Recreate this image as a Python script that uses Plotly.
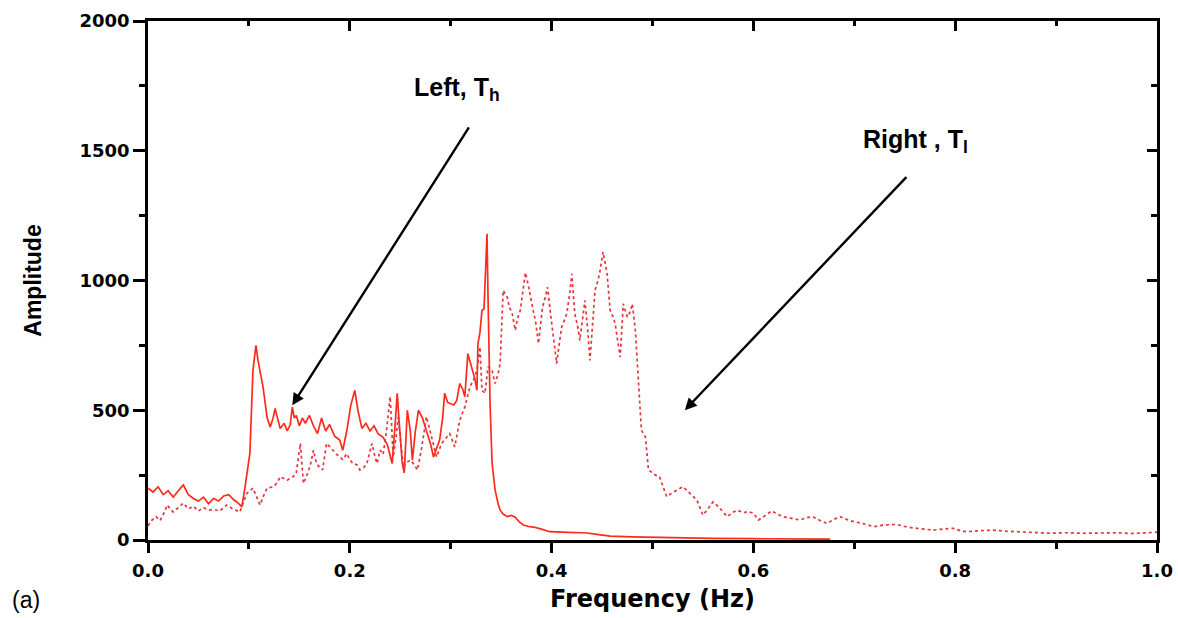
import plotly.graph_objects as go

# ---- data ----
left_freq = [0.000,0.005,0.010,0.015,0.020,0.025,0.030,0.035,0.040,0.045,0.050,0.055,0.060,0.065,0.070,0.075,0.080,0.085,0.090,0.093,0.096,0.098,0.101,0.104,0.107,0.109,0.111,0.114,0.118,0.121,0.124,0.126,0.129,0.131,0.135,0.138,0.141,0.143,0.145,0.147,0.150,0.153,0.156,0.160,0.164,0.168,0.172,0.176,0.180,0.185,0.190,0.193,0.197,0.201,0.205,0.208,0.212,0.216,0.220,0.224,0.228,0.233,0.237,0.240,0.242,0.245,0.247,0.249,0.252,0.254,0.257,0.260,0.262,0.265,0.268,0.272,0.276,0.280,0.283,0.286,0.289,0.292,0.294,0.297,0.300,0.303,0.306,0.309,0.312,0.314,0.317,0.320,0.322,0.324,0.326,0.327,0.329,0.331,0.333,0.335,0.336,0.337,0.339,0.341,0.344,0.347,0.349,0.352,0.356,0.360,0.364,0.368,0.372,0.377,0.382,0.390,0.398,0.410,0.420,0.435,0.445,0.458,0.480,0.500,0.534,0.560,0.600,0.640,0.676]
left_amp = [200,185,205,175,190,165,190,212,175,160,150,165,140,160,150,170,175,155,140,127,200,258,335,654,750,692,654,590,473,435,470,507,460,430,450,420,445,512,470,480,440,470,450,480,440,410,470,420,445,400,385,346,420,520,577,500,430,450,420,440,410,396,370,330,295,450,565,450,295,258,500,420,308,420,500,470,423,370,320,350,385,470,565,530,526,520,538,603,580,552,718,680,654,620,577,757,800,885,890,1077,1180,935,527,296,192,140,115,100,90,95,88,70,58,52,50,42,32,30,28,27,22,15,12,10,7,6,5,4,3]

right_freq = [0.000,0.004,0.008,0.012,0.016,0.019,0.022,0.025,0.030,0.035,0.040,0.045,0.050,0.055,0.060,0.065,0.071,0.078,0.084,0.091,0.095,0.098,0.104,0.108,0.111,0.114,0.118,0.124,0.128,0.131,0.135,0.138,0.141,0.144,0.147,0.151,0.154,0.157,0.161,0.164,0.167,0.170,0.173,0.177,0.180,0.183,0.187,0.190,0.193,0.197,0.200,0.203,0.207,0.210,0.214,0.217,0.220,0.222,0.225,0.227,0.230,0.233,0.236,0.240,0.243,0.246,0.248,0.251,0.253,0.257,0.260,0.264,0.267,0.271,0.276,0.281,0.286,0.291,0.295,0.299,0.304,0.309,0.314,0.319,0.323,0.326,0.329,0.331,0.334,0.337,0.341,0.344,0.347,0.349,0.352,0.356,0.358,0.361,0.364,0.366,0.369,0.371,0.374,0.377,0.379,0.382,0.384,0.387,0.389,0.391,0.394,0.396,0.399,0.402,0.405,0.407,0.410,0.413,0.415,0.418,0.420,0.423,0.426,0.428,0.431,0.433,0.436,0.438,0.441,0.443,0.446,0.448,0.451,0.453,0.455,0.458,0.461,0.463,0.466,0.468,0.471,0.473,0.475,0.478,0.480,0.483,0.485,0.487,0.488,0.489,0.491,0.493,0.496,0.500,0.503,0.507,0.510,0.514,0.519,0.524,0.530,0.533,0.537,0.540,0.544,0.547,0.550,0.555,0.560,0.565,0.570,0.574,0.579,0.584,0.590,0.595,0.600,0.605,0.612,0.618,0.624,0.629,0.636,0.646,0.652,0.659,0.666,0.673,0.680,0.686,0.695,0.706,0.712,0.719,0.730,0.742,0.752,0.762,0.770,0.778,0.788,0.798,0.805,0.811,0.825,0.837,0.850,0.861,0.875,0.894,0.910,0.927,0.945,0.960,0.975,0.993,1.000]
right_amp = [55,77,90,75,105,135,120,108,125,142,120,130,112,125,115,118,112,135,120,108,150,180,200,165,135,165,200,205,220,244,235,230,238,244,260,372,218,244,290,346,295,280,270,372,360,346,330,320,310,333,310,295,290,270,280,295,340,372,320,295,346,330,410,552,320,400,475,350,280,300,308,290,270,350,475,397,320,372,390,410,359,462,513,590,620,654,744,577,565,667,654,603,640,680,962,936,900,872,808,850,885,950,1030,980,936,880,845,757,830,897,940,974,870,769,680,740,821,850,872,950,1026,872,820,769,850,923,800,692,850,962,1000,1038,1110,1070,1026,885,860,833,760,705,910,880,859,880,910,808,680,560,475,423,410,397,270,258,250,244,210,167,180,192,205,195,180,165,154,125,96,120,147,130,110,90,105,115,105,110,103,77,95,112,100,90,85,77,85,90,75,64,80,90,75,67,60,51,58,60,50,45,42,38,42,45,36,32,36,38,34,32,30,26,28,26,27,28,25,29,30]

x_ticks = [0.0, 0.2, 0.4, 0.6, 0.8, 1.0]
y_ticks = [0, 500, 1000, 1500, 2000]

# annotation anchors (data coords)
left_label = dict(text="Left, T<sub>h</sub>", x=0.306, y=1738)
left_arrow = dict(tail=(0.319, 1596), head=(0.143, 519))
right_label = dict(text="Right , T<sub>l</sub>", x=0.761, y=1538)
right_arrow = dict(tail=(0.753, 1404), head=(0.532, 500))

RED = "#ff2a1a"
RED_DOT = "#e8333a"
TICKFONT = dict(family="DejaVu Sans", size=18, color="black", weight="bold")

fig = go.Figure()
fig.add_trace(go.Scatter(x=left_freq, y=left_amp, mode="lines",
                         line=dict(color=RED, width=1.7), showlegend=False))
fig.add_trace(go.Scatter(x=right_freq, y=right_amp, mode="lines",
                         line=dict(color=RED_DOT, width=1.7, dash="dot"), showlegend=False))
# invisible trace to activate mirror axes
fig.add_trace(go.Scatter(x=[0], y=[0], xaxis="x2", yaxis="y2", mode="markers",
                         marker=dict(opacity=0), showlegend=False, hoverinfo="skip"))

fig.update_layout(
    width=1178, height=618,
    margin=dict(l=148, r=21, t=21, b=78),
    paper_bgcolor="white", plot_bgcolor="white",
    font=dict(family="Liberation Sans, Arial, sans-serif", color="black"),
    xaxis=dict(range=[0, 1], tickvals=x_ticks, tickformat=".1f", automargin=False,
               ticks="outside", ticklen=10, tickwidth=2.5, tickcolor="black",
               minor=dict(ticks="outside", ticklen=6, tickwidth=2.5, dtick=0.1, tickcolor="black"),
               showline=True, linecolor="black", linewidth=2.5, showgrid=False, zeroline=False,
               tickfont=TICKFONT, ticklabelstandoff=3,
               title=dict(text="<b>Frequency (Hz)</b>", font=dict(size=24, family="DejaVu Sans"), standoff=10)),
    yaxis=dict(range=[0, 2000], tickvals=y_ticks, automargin=False,
               ticks="outside", ticklen=12, tickwidth=2.5, tickcolor="black",
               minor=dict(ticks="outside", ticklen=6, tickwidth=2.5, dtick=250, tickcolor="black"),
               showline=True, linecolor="black", linewidth=2.5, showgrid=False, zeroline=False,
               tickfont=TICKFONT,
               title=dict(text="<b>Amplitude</b>", font=dict(size=23, family="Liberation Sans"), standoff=32)),
    xaxis2=dict(overlaying="x", side="top", range=[0, 1], showticklabels=False, automargin=False,
                ticks="inside", ticklen=10, tickwidth=2.5, tickcolor="black", dtick=0.2,
                minor=dict(ticks="inside", ticklen=5, tickwidth=2.5, dtick=0.1, tickcolor="black"),
                showline=True, linecolor="black", linewidth=2.5, showgrid=False, zeroline=False),
    yaxis2=dict(overlaying="y", side="right", range=[0, 2000], showticklabels=False, automargin=False,
                ticks="inside", ticklen=10, tickwidth=2.5, tickcolor="black", dtick=500,
                minor=dict(ticks="inside", ticklen=6, tickwidth=2.5, dtick=250, tickcolor="black"),
                showline=True, linecolor="black", linewidth=2.5, showgrid=False, zeroline=False),
)

for lab in (left_label, right_label):
    fig.add_annotation(x=lab["x"], y=lab["y"], xref="x", yref="y", text="<b>" + lab["text"] + "</b>",
                       showarrow=False, font=dict(size=25, family="Liberation Sans", color="black"))
for arr in (left_arrow, right_arrow):
    fig.add_annotation(x=arr["head"][0], y=arr["head"][1], ax=arr["tail"][0], ay=arr["tail"][1],
                       xref="x", yref="y", axref="x", ayref="y", text="", showarrow=True,
                       arrowhead=2, arrowsize=1, arrowwidth=2.4, arrowcolor="black")

fig.add_annotation(xref="paper", yref="paper", x=-0.137, y=-0.115, xanchor="left", yanchor="middle",
                   text="(a)", showarrow=False,
                   font=dict(size=23, family="Liberation Sans", color="black"))

fig.write_html("out.html")
